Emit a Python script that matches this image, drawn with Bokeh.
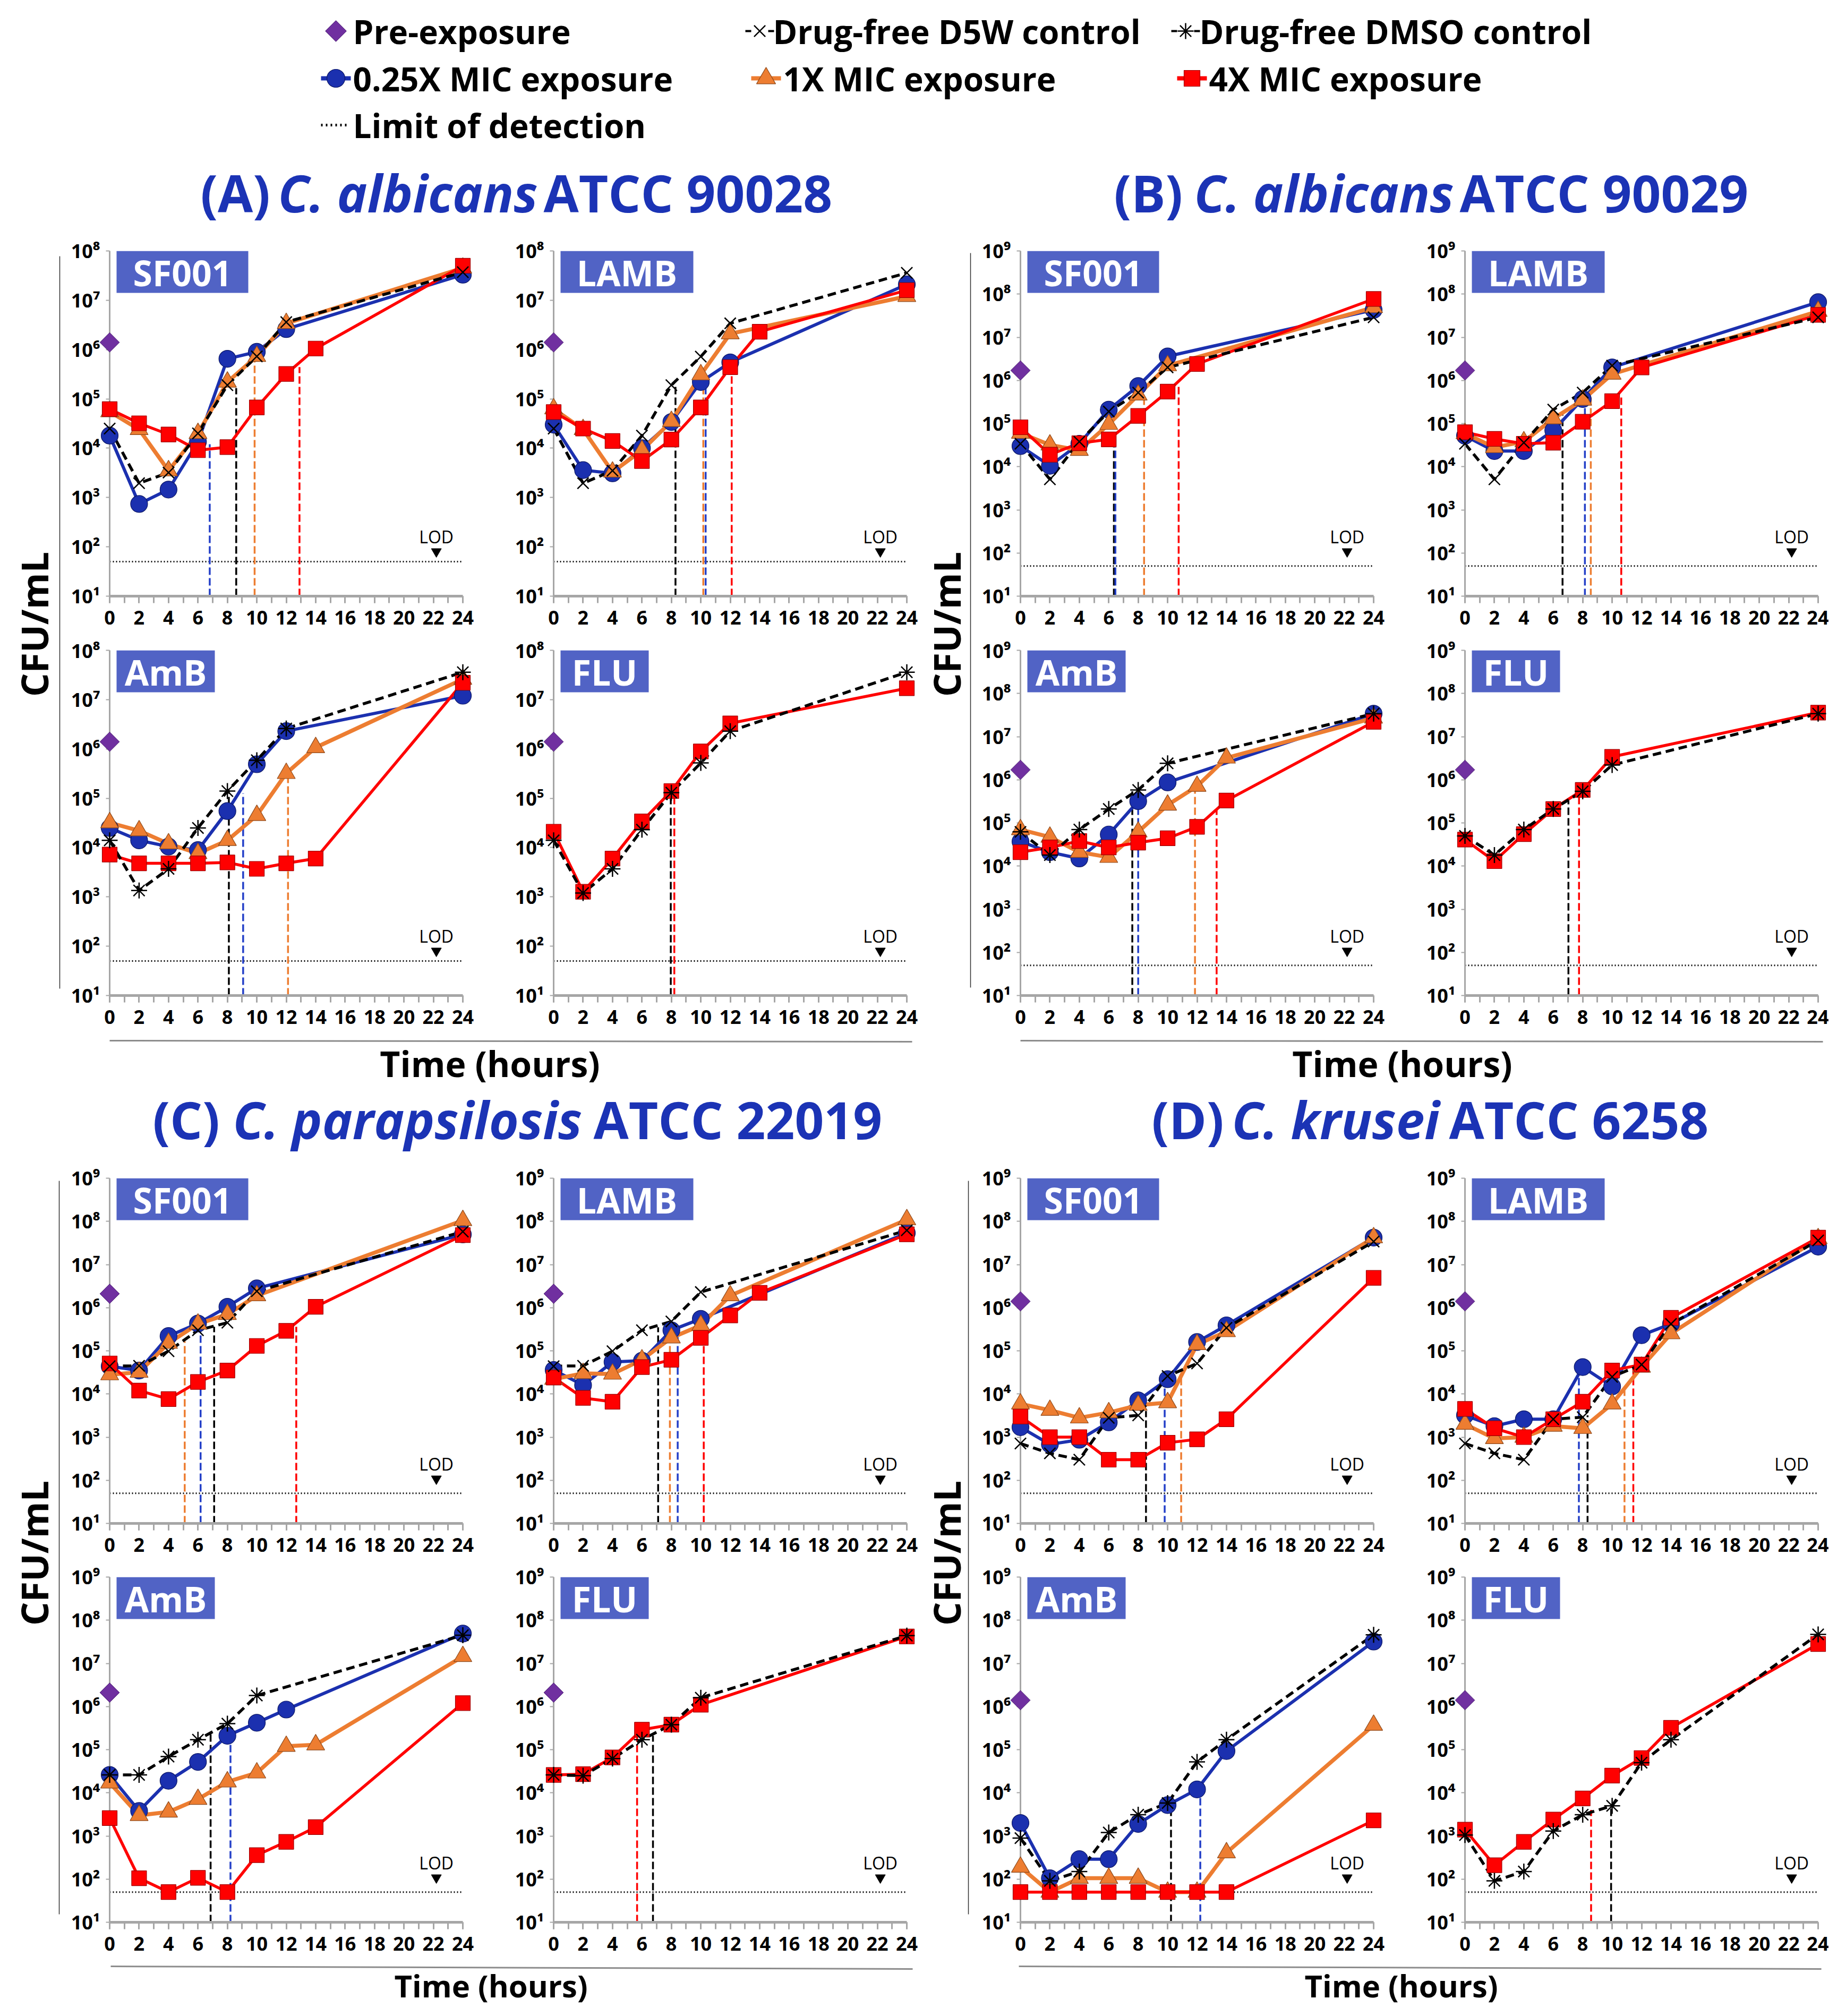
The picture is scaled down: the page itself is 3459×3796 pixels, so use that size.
import math
from bokeh.plotting import figure
from bokeh.layouts import row, column
from bokeh.models import (Range1d, FixedTicker, SingleIntervalTicker,
                          CustomJSTickFormatter, BoxAnnotation, Label)
from bokeh.core.properties import value
from bokeh.embed import file_html
from bokeh.resources import INLINE

FONT = "Open Sans"

# ---------------------------------------------------------------- data
H7 = [0, 2, 4, 6, 8, 10, 24]
H8 = [0, 2, 4, 6, 8, 10, 12, 24]
H9 = [0, 2, 4, 6, 8, 10, 12, 14, 24]
LOD = 50
X_TICK_MAX = 24

PANEL_TITLES = {
    "A": ("(A)", "C. albicans", "ATCC 90028"),
    "B": ("(B)", "C. albicans", "ATCC 90029"),
    "C": ("(C)", "C. parapsilosis", "ATCC 22019"),
    "D": ("(D)", "C. krusei", "ATCC 6258"),
}
PANEL_YMAX = {"A": 1e8, "B": 1e9, "C": 1e9, "D": 1e9}
PRE_EXPOSURE = {"A": 1.4e6, "B": 1.7e6, "C": 2.1e6, "D": 1.4e6}
DRUGS = ["SF001", "LAMB", "AmB", "FLU"]

LEGEND_LABELS = ["Pre-exposure", "Drug-free D5W control", "Drug-free DMSO control",
                 "0.25X MIC exposure", "1X MIC exposure", "4X MIC exposure",
                 "Limit of detection"]

# series keys: q = 0.25X MIC, x1 = 1X MIC, x4 = 4X MIC, ctl = drug-free control
# (A) C. albicans ATCC 90028
A_SF001_q = [1.8e4, 740, 1450, 1.35e4, 6.5e5, 9e5, 2.6e6, 3.3e7]
A_SF001_x1 = [5.5e4, 2.4e4, 3.5e3, 2e4, 2.2e5, 7.3e5, 3.4e6, 4.5e7]
A_SF001_x4 = [6.2e4, 3.2e4, 1.9e4, 9.1e3, 1.05e4, 6.7e4, 3.2e5, 1.05e6, 5e7]
A_SF001_ctl = [2.5e4, 1.95e3, 3.2e3, 2e4, 1.9e5, 7.3e5, 3.6e6, 3.7e7]
A_SF001_cut = (["q", "ctl", "x1", "x4"], [6.8, 8.6, 9.85, 12.9], [1.2e4, 1.66e5, 6.5e5, 4.4e5])

A_LAMB_q = [3e4, 3.6e3, 3.1e3, 1e4, 3.4e4, 2.2e5, 5.5e5, 2.1e7]
A_LAMB_x1 = [6.3e4, 2.4e4, 3.3e3, 9e3, 3.5e4, 3.1e5, 2.1e6, 1.2e7]
A_LAMB_x4 = [5.4e4, 2.5e4, 1.4e4, 5.5e3, 1.5e4, 6.7e4, 4.4e5, 2.3e6, 1.6e7]
A_LAMB_ctl = [2.5e4, 1.95e3, 3.5e3, 1.8e4, 1.9e5, 7.2e5, 3.4e6, 3.6e7]
A_LAMB_cut = (["ctl", "x1", "q", "x4"], [8.28, 10.17, 10.33, 12.1], [1.86e5, 4.2e5, 2.95e5, 3.9e5])

A_AmB_q = [2.5e4, 1.4e4, 1.05e4, 8.9e3, 5.5e4, 4.9e5, 2.3e6, 1.2e7]
A_AmB_x1 = [3.2e4, 2.2e4, 1.2e4, 7.6e3, 1.4e4, 4.5e4, 3.2e5, 1.07e6, 2.6e7]
A_AmB_x4 = [7.2e3, 4.8e3, 4.8e3, 4.8e3, 5e3, 3.7e3, 4.8e3, 6e3, 2.2e7]
A_AmB_ctl = [1.4e4, 1.35e3, 3.7e3, 2.5e4, 1.4e5, 5.9e5, 2.6e6, 3.6e7]
A_AmB_cut = (["ctl", "q", "x1"], [8.1, 9.07, 12.12], [1.4e5, 1.26e5, 3e5])

A_FLU_x4 = [2.1e4, 1.27e3, 6e3, 3.4e4, 1.4e5, 8.9e5, 3.3e6, 1.7e7]
A_FLU_ctl = [1.4e4, 1.2e3, 3.7e3, 2.3e4, 1.3e5, 5.2e5, 2.3e6, 3.6e7]
A_FLU_cut = (["ctl", "x4"], [7.96, 8.2], [1.4e5, 1.8e5])

# (B) C. albicans ATCC 90029
B_SF001_q = [3e4, 1.05e4, 3.4e4, 2.1e5, 7.4e5, 3.6e6, 4.3e7]
B_SF001_x1 = [6e4, 3.2e4, 2.4e4, 9.6e4, 4.6e5, 2.2e6, 4.9e7]
B_SF001_x4 = [8.2e4, 1.9e4, 3.5e4, 4.3e4, 1.5e5, 5.5e5, 2.4e6, 7.7e7]
B_SF001_ctl = [3.4e4, 5.1e3, 3.8e4, 1.9e5, 5.2e5, 2e6, 2.9e7]
B_SF001_cut = (["ctl", "q", "x1", "x4"], [6.35, 6.45, 8.4, 10.75], [4.4e4, 4.4e4, 4e5, 7.6e5])

B_LAMB_q = [5.2e4, 2.3e4, 2.3e4, 6.9e4, 3.7e5, 2e6, 6.5e7]
B_LAMB_x1 = [5.9e4, 2.8e4, 3.8e4, 1.3e5, 3.5e5, 1.4e6, 4e7]
B_LAMB_x4 = [6.3e4, 4.4e4, 3.4e4, 3.6e4, 1.1e5, 3.3e5, 2e6, 3.3e7]
B_LAMB_ctl = [3.4e4, 5.1e3, 3.6e4, 2.1e5, 5.2e5, 2.2e6, 2.9e7]
B_LAMB_cut = (["ctl", "q", "x1", "x4"], [6.63, 8.15, 8.55, 10.62], [1.6e5, 4e5, 4.6e5, 4.6e5])

B_AmB_q = [3.7e4, 2.1e4, 1.5e4, 5.4e4, 3.2e5, 8.7e5, 3.4e7]
B_AmB_x1 = [7e4, 4.7e4, 2.1e4, 1.6e4, 6.2e4, 2.6e5, 7.1e5, 3.2e6, 2.7e7]
B_AmB_x4 = [2.1e4, 2.7e4, 3.8e4, 2.7e4, 3.5e4, 4.4e4, 8.1e4, 3.3e5, 2.2e7]
B_AmB_ctl = [6.2e4, 1.8e4, 7e4, 2.1e5, 5.8e5, 2.4e6, 3.4e7]
B_AmB_cut = (["ctl", "q", "x1", "x4"], [7.6, 8.0, 11.86, 13.33], [5.4e5, 3.2e5, 5.4e5, 2.1e5])

B_FLU_x4 = [4.1e4, 1.3e4, 5.5e4, 2.1e5, 5.8e5, 3.4e6, 3.6e7]
B_FLU_ctl = [5e4, 1.8e4, 7e4, 2.1e5, 5.4e5, 2.2e6, 3.4e7]
B_FLU_cut = (["ctl", "x4"], [7.03, 7.75], [3.2e5, 4.7e5])

# (C) C. parapsilosis ATCC 22019
C_SF001_q = [4.4e4, 3.5e4, 2.2e5, 4.3e5, 1.05e6, 2.8e6, 5e7]
C_SF001_x1 = [2.8e4, 3.2e4, 1.5e5, 4.2e5, 7e5, 1.9e6, 1.05e8]
C_SF001_x4 = [5.1e4, 1.2e4, 7.6e3, 1.9e4, 3.5e4, 1.3e5, 2.9e5, 1.05e6, 4.8e7]
C_SF001_ctl = [4.4e4, 4.5e4, 9.8e4, 3e5, 4.5e5, 2.4e6, 5.8e7]
C_SF001_cut = (["x1", "q", "ctl", "x4"], [5.1, 6.18, 7.1, 12.68], [1.66e5, 2.8e5, 3.6e5, 3.6e5])

C_LAMB_q = [3.6e4, 1.6e4, 5.5e4, 5.9e4, 3e5, 5.5e5, 5.4e7]
C_LAMB_x1 = [2.2e4, 3e4, 2.9e4, 6.2e4, 2e5, 3.9e5, 1.9e6, 1.1e8]
C_LAMB_x4 = [2.4e4, 8.1e3, 6.6e3, 4.2e4, 6.2e4, 2e5, 6.6e5, 2.2e6, 5e7]
C_LAMB_ctl = [4.4e4, 4.5e4, 9.8e4, 3e5, 4.8e5, 2.3e6, 6.2e7]
C_LAMB_cut = (["ctl", "x1", "q", "x4"], [7.1, 7.9, 8.43, 10.2], [3.5e5, 2.2e5, 3.2e5, 4.2e5])

C_AmB_q = [2.6e4, 3.8e3, 1.9e4, 5.2e4, 2.1e5, 4.2e5, 8.5e5, 4.9e7]
C_AmB_x1 = [1.7e4, 3e3, 3.6e3, 7.1e3, 1.8e4, 2.9e4, 1.2e5, 1.3e5, 1.45e7]
C_AmB_x4 = [2.6e3, 105, 50, 107, 50, 360, 730, 1.6e3, 1.2e6]
C_AmB_ctl = [2.6e4, 2.6e4, 6.9e4, 1.7e5, 4e5, 1.8e6, 4.5e7]
C_AmB_cut = (["ctl", "q"], [6.86, 8.21], [2.3e5, 2.1e5])

C_FLU_x4 = [2.6e4, 2.7e4, 6.6e4, 2.9e5, 3.8e5, 1.1e6, 4.2e7]
C_FLU_ctl = [2.6e4, 2.5e4, 6.2e4, 1.7e5, 3.8e5, 1.6e6, 4.4e7]
C_FLU_cut = (["x4", "ctl"], [5.67, 6.75], [2.3e5, 2.1e5])

# (D) C. krusei ATCC 6258
D_SF001_q = [1.7e3, 680, 870, 2.2e3, 7.1e3, 2.2e4, 1.6e5, 3.9e5, 4.2e7]
D_SF001_x1 = [5.9e3, 4.2e3, 2.8e3, 3.7e3, 5.5e3, 6.3e3, 1.4e5, 2.8e5, 4.2e7]
D_SF001_x4 = [3e3, 1e3, 1e3, 300, 300, 740, 890, 2.6e3, 4.9e6]
D_SF001_ctl = [710, 420, 300, 2.8e3, 3.2e3, 2.6e4, 5.1e4, 3.4e5, 3.4e7]
D_SF001_cut = (["ctl", "q", "x1"], [8.53, 9.8, 10.92], [4e3, 1.66e4, 3e4])

D_LAMB_q = [3.2e3, 1.8e3, 2.6e3, 2.6e3, 4.2e4, 1.5e4, 2.3e5, 4.2e5, 2.6e7]
D_LAMB_x1 = [2e3, 930, 1e3, 1.8e3, 1.6e3, 5.9e3, 4.2e4, 2.5e5, 4e7]
D_LAMB_x4 = [4.5e3, 1.6e3, 1e3, 2.6e3, 6.6e3, 3.5e4, 4.8e4, 5.8e5, 4.2e7]
D_LAMB_ctl = [710, 420, 300, 2.6e3, 2.9e3, 2.5e4, 4.8e4, 4.2e5, 3.6e7]
D_LAMB_cut = (["q", "ctl", "x1", "x4"], [7.74, 8.33, 10.84, 11.44], [3.9e4, 3.2e3, 1.2e4, 4.5e4])

D_AmB_q = [2e3, 105, 290, 290, 1.9e3, 5.2e3, 1.2e4, 9.3e4, 3.2e7]
D_AmB_x1 = [190, 50, 105, 105, 105, 50, 50, 410, 3.7e5]
D_AmB_x4 = [50, 50, 50, 50, 50, 50, 50, 50, 2.3e3]
D_AmB_ctl = [890, 91, 150, 1.2e3, 3.1e3, 5.8e3, 5.2e4, 1.7e5, 4.6e7]
D_AmB_cut = (["ctl", "q"], [10.23, 12.22], [5.9e3, 1e4])

D_FLU_x4 = [1.4e3, 210, 730, 2.4e3, 7.4e3, 2.5e4, 6.4e4, 3.2e5, 2.8e7]
D_FLU_ctl = [1.05e3, 91, 150, 1.3e3, 3.1e3, 5e3, 5e4, 1.7e5, 4.7e7]
D_FLU_cut = (["x4", "ctl"], [8.57, 9.93], [4e3, 5e3])

SUBPLOTS = {
    ("A", "SF001"): ([("q", H8, A_SF001_q), ("x1", H8, A_SF001_x1), ("x4", H9, A_SF001_x4), ("ctl", H8, A_SF001_ctl)], A_SF001_cut),
    ("A", "LAMB"): ([("q", H8, A_LAMB_q), ("x1", H8, A_LAMB_x1), ("x4", H9, A_LAMB_x4), ("ctl", H8, A_LAMB_ctl)], A_LAMB_cut),
    ("A", "AmB"): ([("q", H8, A_AmB_q), ("x1", H9, A_AmB_x1), ("x4", H9, A_AmB_x4), ("ctl", H8, A_AmB_ctl)], A_AmB_cut),
    ("A", "FLU"): ([("x4", H8, A_FLU_x4), ("ctl", H8, A_FLU_ctl)], A_FLU_cut),
    ("B", "SF001"): ([("q", H7, B_SF001_q), ("x1", H7, B_SF001_x1), ("x4", H8, B_SF001_x4), ("ctl", H7, B_SF001_ctl)], B_SF001_cut),
    ("B", "LAMB"): ([("q", H7, B_LAMB_q), ("x1", H7, B_LAMB_x1), ("x4", H8, B_LAMB_x4), ("ctl", H7, B_LAMB_ctl)], B_LAMB_cut),
    ("B", "AmB"): ([("q", H7, B_AmB_q), ("x1", H9, B_AmB_x1), ("x4", H9, B_AmB_x4), ("ctl", H7, B_AmB_ctl)], B_AmB_cut),
    ("B", "FLU"): ([("x4", H7, B_FLU_x4), ("ctl", H7, B_FLU_ctl)], B_FLU_cut),
    ("C", "SF001"): ([("q", H7, C_SF001_q), ("x1", H7, C_SF001_x1), ("x4", H9, C_SF001_x4), ("ctl", H7, C_SF001_ctl)], C_SF001_cut),
    ("C", "LAMB"): ([("q", H7, C_LAMB_q), ("x1", H8, C_LAMB_x1), ("x4", H9, C_LAMB_x4), ("ctl", H7, C_LAMB_ctl)], C_LAMB_cut),
    ("C", "AmB"): ([("q", H8, C_AmB_q), ("x1", H9, C_AmB_x1), ("x4", H9, C_AmB_x4), ("ctl", H7, C_AmB_ctl)], C_AmB_cut),
    ("C", "FLU"): ([("x4", H7, C_FLU_x4), ("ctl", H7, C_FLU_ctl)], C_FLU_cut),
    ("D", "SF001"): ([("q", H9, D_SF001_q), ("x1", H9, D_SF001_x1), ("x4", H9, D_SF001_x4), ("ctl", H9, D_SF001_ctl)], D_SF001_cut),
    ("D", "LAMB"): ([("q", H9, D_LAMB_q), ("x1", H9, D_LAMB_x1), ("x4", H9, D_LAMB_x4), ("ctl", H9, D_LAMB_ctl)], D_LAMB_cut),
    ("D", "AmB"): ([("q", H9, D_AmB_q), ("x1", H9, D_AmB_x1), ("x4", H9, D_AmB_x4), ("ctl", H9, D_AmB_ctl)], D_AmB_cut),
    ("D", "FLU"): ([("x4", H9, D_FLU_x4), ("ctl", H9, D_FLU_ctl)], D_FLU_cut),
}

# ---------------------------------------------------------------- style
BLUE = "#1B30AF"
ORANGE = "#ED7D31"
RED = "#FF0000"
PURPLE = "#7030A0"
BOX_COLOR = "#5163C5"
TITLE_BLUE = "#1B33B5"
AXIS_GRAY = "#A6A6A6"

SERIES_STYLE = {
    "q": dict(color=BLUE, marker="circle", size=32, lw=6, edge="#0C1766"),
    "x1": dict(color=ORANGE, marker="triangle", size=34, lw=7.5, edge="#8E4A1C"),
    "x4": dict(color=RED, marker="square", size=28, lw=5.5, edge="#A00000"),
}
CUT_COLOR = {"q": "#2440C8", "x1": ORANGE, "x4": RED, "ctl": "black"}
BOX_W = {"SF001": 248, "LAMB": 250, "AmB": 185, "FLU": 166}

FRAME_W, FRAME_H = 665, 650


def ppd(ymax):
    return FRAME_H / (math.log10(ymax) - 1)


def xh(px):
    return px * X_TICK_MAX / FRAME_W


def y_from_bottom(px, ymax):
    return 10 ** (1 + px / ppd(ymax))


def y_from_top(px, ymax):
    return ymax / 10 ** (px / ppd(ymax))


def style_axes(p, ymax):
    xa = p.xaxis[0]
    ya = p.yaxis[0]
    xa.ticker = SingleIntervalTicker(interval=2, num_minor_ticks=2)
    xa.axis_line_color = AXIS_GRAY
    xa.axis_line_width = 5
    xa.major_tick_line_color = AXIS_GRAY
    xa.major_tick_line_width = 3
    xa.major_tick_in = 0
    xa.major_tick_out = 13
    xa.minor_tick_line_color = AXIS_GRAY
    xa.minor_tick_line_width = 3
    xa.minor_tick_in = 0
    xa.minor_tick_out = 13
    xa.major_label_standoff = 14
    xa.major_label_text_font = FONT
    xa.major_label_text_font_style = "bold"
    xa.major_label_text_font_size = "36px"
    xa.major_label_text_color = "black"

    n = int(round(math.log10(ymax)))
    ya.ticker = FixedTicker(ticks=[10.0 ** k for k in range(1, n + 1)], minor_ticks=[])
    ya.formatter = CustomJSTickFormatter(code="""
        const sup = ["\u2070","\u00b9","\u00b2","\u00b3","\u2074","\u2075","\u2076","\u2077","\u2078","\u2079"];
        const e = Math.round(Math.log10(tick));
        return "10" + sup[e];
    """)
    ya.axis_line_color = AXIS_GRAY
    ya.axis_line_width = 3
    ya.major_tick_line_color = AXIS_GRAY
    ya.major_tick_line_width = 2
    ya.major_tick_in = 0
    ya.major_tick_out = 7
    ya.minor_tick_line_color = None
    ya.major_label_standoff = 11
    ya.major_label_text_font = FONT
    ya.major_label_text_font_style = "bold"
    ya.major_label_text_font_size = "36px"
    ya.major_label_text_color = "black"


def make_sub(panel, drug, L, R, T, B):
    series, cut = SUBPLOTS[(panel, drug)]
    ymax = PANEL_YMAX[panel]
    p = figure(width=L + FRAME_W + R, height=T + FRAME_H + B,
               x_range=Range1d(0, X_TICK_MAX), y_range=Range1d(10, ymax),
               y_axis_type="log", toolbar_location=None, output_backend="svg",
               min_border_left=L, min_border_right=R, min_border_top=T, min_border_bottom=B)
    p.outline_line_color = None
    p.grid.visible = False
    p.background_fill_color = "white"
    p.border_fill_color = "white"
    style_axes(p, ymax)

    # drug label box
    w = BOX_W[drug]
    p.add_layout(BoxAnnotation(left=xh(13), right=xh(13 + w), top=ymax,
                               bottom=y_from_top(79, ymax), fill_color=BOX_COLOR,
                               fill_alpha=1.0, line_color=None))
    p.add_layout(Label(x=xh(13 + w / 2), y=y_from_top(40, ymax), text=drug,
                       text_align="center", text_baseline="middle",
                       text_color="white", text_font=FONT, text_font_style="bold",
                       text_font_size="66px"))

    # limit of detection
    p.line([0, X_TICK_MAX], [LOD, LOD], line_color="black", line_width=3, line_dash="2 4")
    p.scatter([22.2], [y_from_bottom(84, ymax)], marker="inverted_triangle", size=19,
              color="black")
    p.text([22.2], [y_from_bottom(112, ymax)], text=["LOD"], text_align="center",
           text_baseline="middle", text_font=value(FONT), text_font_size="32px",
           text_color="black")

    # cut-off lines
    keys, ts, tops = cut
    p.segment(x0=ts, y0=[10] * len(ts), x1=ts, y1=tops,
              line_color=[CUT_COLOR[k] for k in keys], line_dash="14 6", line_width=3.5)

    # series lines
    for key, t, v in series:
        if key == "ctl":
            p.line(t, v, line_color="black", line_width=5.5, line_dash="16 9")
        else:
            st = SERIES_STYLE[key]
            p.line(t, v, line_color=st["color"], line_width=st["lw"], line_join="round")
    # series markers
    for key, t, v in series:
        if key == "ctl":
            mk = "x" if drug in ("SF001", "LAMB") else "asterisk"
            p.scatter(t, v, marker=mk, size=30, line_color="black", line_width=2.5,
                      level="overlay")
        else:
            st = SERIES_STYLE[key]
            p.scatter(t, v, marker=st["marker"], size=st["size"], fill_color=st["color"],
                      line_color=st["edge"], line_width=1.2, level="overlay")
    # pre-exposure
    p.scatter([0], [PRE_EXPOSURE[panel]], marker="square", angle=math.pi / 4, size=26,
              fill_color=PURPLE, line_color="#4B1E73", line_width=1, level="overlay")
    return p


def blank(x0, x1, y0, y1):
    p = figure(width=x1 - x0, height=y1 - y0, x_range=Range1d(x0, x1),
               y_range=Range1d(y1, y0), min_border=0, toolbar_location=None,
               output_backend="svg", x_axis_location=None, y_axis_location=None)
    p.outline_line_color = None
    p.grid.visible = False
    p.background_fill_color = "white"
    p.border_fill_color = "white"
    return p


def txt(p, x, y, s, size, style="bold", color="black", align="left", angle=0.0):
    p.text([x], [y], text=[s], text_font=value(FONT), text_font_style=style,
           text_font_size=size, text_color=color, text_align=align,
           text_baseline="middle", angle=angle)


def panel_title(p, panel, xs, ymid):
    a, b, c = PANEL_TITLES[panel]
    txt(p, xs[0], ymid, a, "96px", color=TITLE_BLUE)
    txt(p, xs[1], ymid, b, "96px", style="bold italic", color=TITLE_BLUE)
    txt(p, xs[2], ymid, c, "96px", color=TITLE_BLUE)


# ---------------------------------------------------------------- header
hdr = blank(8, 3451, 8, 440)
row_my = [66, 155, 243]
# pre-exposure
hdr.scatter([640], [row_my[0]], marker="square", angle=math.pi / 4, size=28,
            fill_color=PURPLE, line_color="#4B1E73")
# controls
for mx, mk in ((1438, "x"), (2240, "asterisk")):
    hdr.segment(x0=[mx - 27, mx + 16], y0=[row_my[0]] * 2, x1=[mx - 16, mx + 27],
                y1=[row_my[0]] * 2, line_color="black", line_width=4)
    hdr.scatter([mx], [row_my[0]], marker=mk, size=30, line_color="black", line_width=2.5)
# exposures
for mx, key in ((640, "q"), (1450, "x1"), (2252, "x4")):
    st = SERIES_STYLE[key]
    hdr.segment(x0=[mx - 28], y0=[row_my[1]], x1=[mx + 28], y1=[row_my[1]],
                line_color=st["color"], line_width=8)
    hdr.scatter([mx], [row_my[1]], marker=st["marker"], size=st["size"] + 2,
                fill_color=st["color"], line_color=st["edge"], line_width=1.2)
# LOD
hdr.segment(x0=[612], y0=[row_my[2]], x1=[666], y1=[row_my[2]], line_color="black",
            line_width=5, line_dash="3 6")
legend_pos = [(672, 0), (1463, 0), (2266, 0), (672, 1), (1482, 1), (2284, 1), (672, 2)]
for lab, (tx, ri) in zip(LEGEND_LABELS, legend_pos):
    txt(hdr, tx, row_my[ri], lab, "62px")
panel_title(hdr, "A", [385, 531, 1031], 370)
panel_title(hdr, "B", [2105, 2256, 2756], 370)


# ---------------------------------------------------------------- strips
def strip(x0, x1, y0, y1, tx, ty, lx, ly0, ly1):
    p = blank(x0, x1, y0, y1)
    txt(p, tx, ty, "CFU/mL", "70px", align="center", angle=math.pi / 2)
    p.segment(x0=[lx], y0=[ly0], x1=[lx], y1=[ly1], line_color="#303030", line_width=1.5)
    return p


# geometry (reference pixel coordinates): (top border, bottom border) per row
ROWS = {1: (40, 78), 2: (24, 78), 3: (38, 76), 4: (25, 78)}
LEFT_COL = (84, 86)
RIGHT_COL_AC = (85, 25)
RIGHT_COL_BD = (86, 20)


def block(panel, rows, right_col):
    r1, r2 = rows
    s1 = make_sub(panel, "SF001", *LEFT_COL, *ROWS[r1])
    s2 = make_sub(panel, "LAMB", *right_col, *ROWS[r1])
    s3 = make_sub(panel, "AmB", *LEFT_COL, *ROWS[r2])
    s4 = make_sub(panel, "FLU", *right_col, *ROWS[r2])
    return column(row(s1, s2), row(s3, s4))


stripA = strip(8, 130, 440, 1960, 71, 1183, 120, 490, 1869)
stripB = strip(1740, 1845, 440, 1960, 1789, 1183, 1835, 484, 1867)
top_block = row(stripA, block("A", (1, 2), RIGHT_COL_AC), stripB, block("B", (1, 2), RIGHT_COL_BD))

mid = blank(8, 3451, 1960, 2188)
mid.segment(x0=[214, 1929], y0=[1967, 1967], x1=[1725, 3440], y1=[1969, 1969],
            line_color="#8C8C8C", line_width=3)
txt(mid, 930, 2009, "Time (hours)", "66px", align="center")
txt(mid, 2648, 2009, "Time (hours)", "66px", align="center")
panel_title(mid, "C", [295, 446, 1125], 2115)
panel_title(mid, "D", [2176, 2327, 2736], 2115)

stripC = strip(8, 130, 2188, 3705, 71, 2932, 119, 2231, 3612)
stripD = strip(1740, 1845, 2188, 3705, 1789, 2932, 1831, 2231, 3612)
bot_block = row(stripC, block("C", (3, 4), RIGHT_COL_AC), stripD, block("D", (3, 4), RIGHT_COL_BD))

bot = blank(8, 3451, 3705, 3786)
bot.segment(x0=[216, 1926], y0=[3710, 3710], x1=[1726, 3437], y1=[3715, 3715],
            line_color="#8C8C8C", line_width=3)
txt(bot, 932, 3746, "Time (hours)", "58px", align="center")
txt(bot, 2646, 3746, "Time (hours)", "58px", align="center")

layout = column(hdr, top_block, mid, bot_block, bot)

with open("out.html", "w", encoding="utf-8") as f:
    f.write(file_html(layout, INLINE))
